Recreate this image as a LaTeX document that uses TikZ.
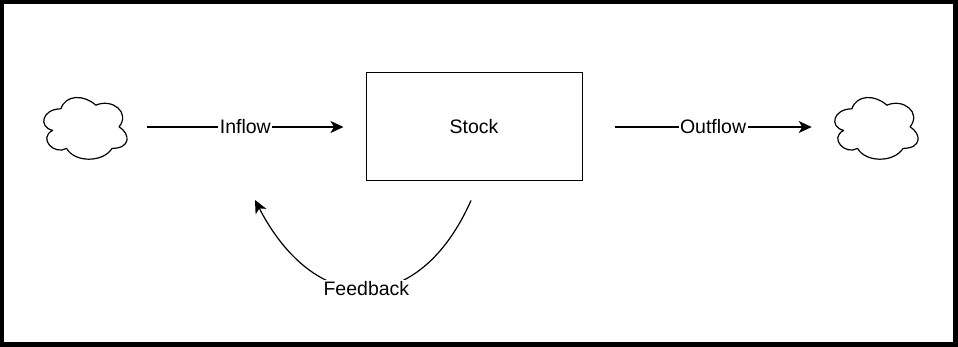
\documentclass[tikz,border=0pt]{standalone}
\usepackage{fontspec}
\setmainfont{Liberation Sans}
\usetikzlibrary{arrows.meta,positioning,calc}

% cloud outline drawn inside the box of a named node
\newcommand{\drawcloud}[1]{%
 \draw[cloudline,shift={(#1.north west)},xscale=93,yscale=72]
  (0.25,0.25) .. controls (0.05,0.25) and (0,0.5) .. (0.16,0.55)
  .. controls (0,0.66) and (0.18,0.9) .. (0.31,0.8)
  .. controls (0.4,1) and (0.7,1) .. (0.8,0.8)
  .. controls (1,0.8) and (1,0.6) .. (0.875,0.5)
  .. controls (1,0.3) and (0.8,0.1) .. (0.625,0.2)
  .. controls (0.5,0.05) and (0.3,0.05) .. cycle;}

\begin{document}
\begin{tikzpicture}[
 x=1pt,y=-1pt,
 every node/.style={font=\fontsize{19.5}{23}\selectfont},
 cloudbox/.style={minimum width=93,minimum height=72,inner sep=0},
 cloudline/.style={line width=1.2pt,line join=round},
 stockbox/.style={draw,line width=1pt,minimum width=216,minimum height=108},
 flow/.style={line width=1.2pt,-{Stealth[length=13pt,width=12pt,inset=3.5pt]}},
 lbl/.style={fill=white,inner sep=1.5pt}]
\fill[black] (0,0) rectangle (958,347);
\fill[white] (4,4) rectangle (953,342);
\node[cloudbox] (srccloud) at (84.4,127) {};
\node[stockbox] (stock) at (474,127) {Stock};
\node[cloudbox] (sinkcloud) at (875.4,127) {};
\drawcloud{srccloud}
\drawcloud{sinkcloud}
\draw[flow] ([xshift=16]srccloud.east) -- node[lbl] {Inflow} ([xshift=-22]stock.west);
\draw[flow] ([xshift=32]stock.east) -- node[lbl] {Outflow} ([xshift=-17]sinkcloud.west);
\coordinate (fbtail) at ([xshift=-3,yshift=-19]stock.south);
\coordinate (fbhead) at (255,200);
\draw[flow] (fbtail) .. controls (419,318) and (316,318) .. node[lbl] {Feedback} (fbhead);
\end{tikzpicture}
\end{document}
